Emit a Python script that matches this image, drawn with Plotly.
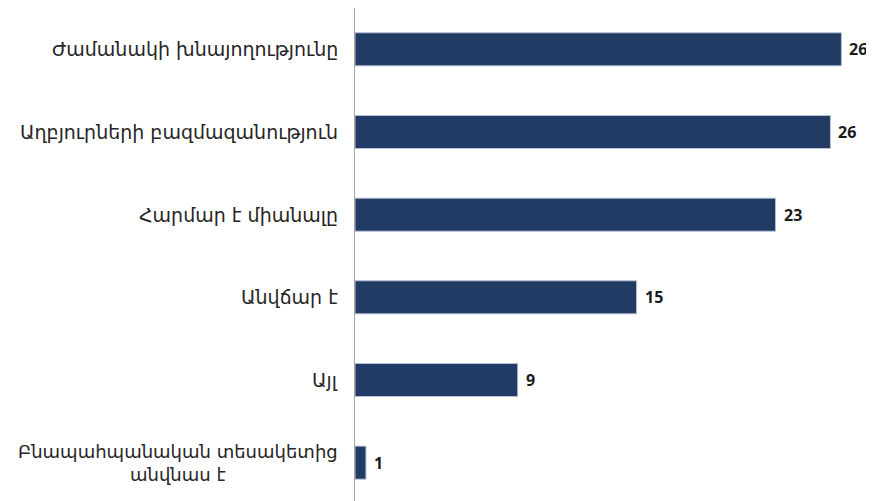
import plotly.graph_objects as go

categories = [
    "Ժամանակի խնայողությունը",
    "Աղբյուրների բազմազանություն",
    "Հարմար է միանալը",
    "Անվճար է",
    "Այլ",
    "Բնապահպանական տեսակետից<br>անվնաս է",
]
values = [26.6, 26.0, 23.0, 15.4, 8.9, 0.6]
value_labels = ["26", "26", "23", "15", "9", "1"]

fig = go.Figure()
fig.add_trace(go.Bar(
    y=categories,
    x=values,
    orientation="h",
    marker=dict(color="#213B65", line=dict(color="#B8C2D4", width=1)),
    hoverinfo="skip",
))

for c, v, t in zip(categories, values, value_labels):
    fsize = 18 if "<br>" in c else 19
    fig.add_annotation(
        x=0, xref="paper", y=c, yref="y",
        text=c, showarrow=False, xanchor="right", align="center",
        xshift=-15,
        font=dict(family="DejaVu Sans", size=fsize, color="#262626"),
    )
    fig.add_annotation(
        x=v, xref="x", y=c, yref="y",
        text=t, showarrow=False, xanchor="left", xshift=6,
        font=dict(family="Open Sans", size=16, color="#1A1A1A", weight="bold"),
    )

fig.update_layout(
    width=866, height=496,
    margin=dict(l=347, r=7, t=0, b=0, autoexpand=False),
    plot_bgcolor="white", paper_bgcolor="white",
    showlegend=False,
    bargap=0.6,
)
fig.update_xaxes(range=[0, 28], showgrid=False, showticklabels=False, zeroline=False, showline=False)
fig.update_yaxes(autorange="reversed", showticklabels=False, showgrid=False,
                 showline=True, linecolor="#A6A6A6", linewidth=1, ticks="")

fig.write_html("out.html")
